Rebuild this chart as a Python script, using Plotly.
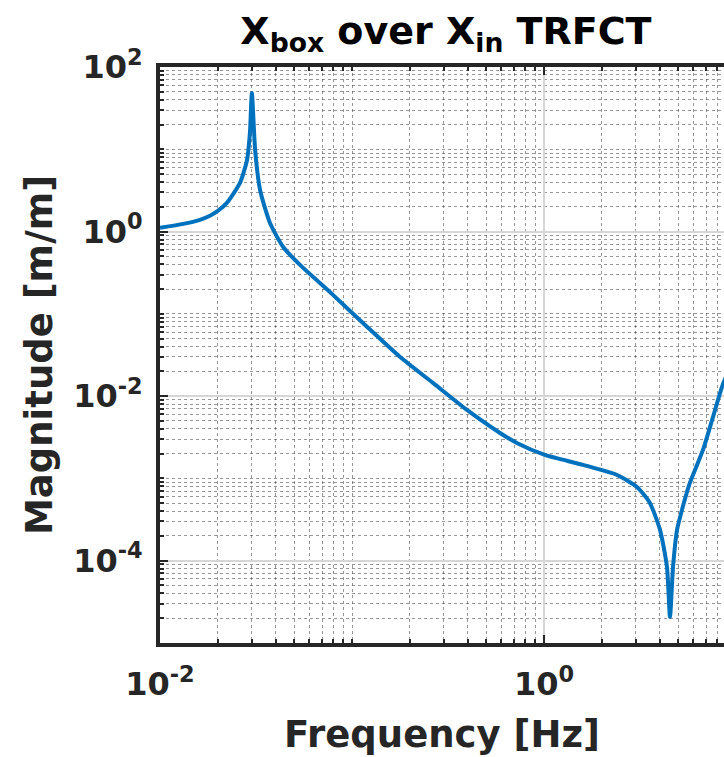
import plotly.graph_objects as go

# Transfer function magnitude |X_box / X_in| versus frequency
freq_hz = [0.0100, 0.0132, 0.0160, 0.0182, 0.0200, 0.0223, 0.0261, 0.0284, 0.0294, 0.0301,
           0.0313, 0.0332, 0.0374, 0.0438, 0.0536, 0.0796, 0.120, 0.178,
           0.264, 0.397, 0.590, 0.722, 1.01, 1.60, 2.40, 3.05, 3.56, 4.02,
           4.37, 4.53, 4.70, 4.93, 5.23, 5.75, 6.73, 7.59, 8.55, 10.0]
magnitude = [1.11, 1.24, 1.38, 1.56, 1.78, 2.23, 3.90, 7.41, 15.8, 48.3,
             9.8, 3.2, 1.27, 0.650, 0.393, 0.170, 0.0693, 0.0299,
             0.0145, 0.00680, 0.00357, 0.00270, 0.00193, 0.00146, 0.00110, 0.000788, 0.000504, 0.000237,
             8.4e-5, 2.07e-5, 8.4e-5, 0.000237, 0.000414, 0.000881, 0.00222, 0.00559, 0.0140, 0.031]

x_tick_vals = [0.01, 1]
x_tick_text = ["10<sup>-2</sup>", "10<sup>0</sup>"]
y_tick_vals = [1e-4, 1e-2, 1, 100]
y_tick_text = ["10<sup>-4</sup>", "10<sup>-2</sup>", "10<sup>0</sup>", "10<sup>2</sup>"]

FONT = "DejaVu Sans"
INK = "#262626"
LINE_BLUE = "#0072BD"

fig = go.Figure()
fig.add_trace(go.Scatter(x=freq_hz, y=magnitude, mode="lines",
                         line=dict(color=LINE_BLUE, width=4, shape="spline", smoothing=0.6)))

axis_common = dict(
    type="log",
    showline=True, linecolor=INK, linewidth=4,
    ticks="inside", ticklen=8, tickwidth=2, tickcolor=INK,
    showgrid=True, gridcolor="#d6d6d6", gridwidth=2,
    tickfont=dict(family=FONT, size=32, color=INK, weight="bold"),
    zeroline=False,
    minor=dict(dtick="D1", ticks="inside", ticklen=4, tickcolor=INK,
               showgrid=True, gridcolor="rgba(80,80,80,0.6)", griddash="dot", gridwidth=1),
)

fig.update_xaxes(**axis_common, range=[-2, 0.9375], mirror="ticks",
                 tickvals=x_tick_vals, ticktext=x_tick_text, ticklabelstandoff=10,
                 title=dict(text="Frequency [Hz]", standoff=20,
                            font=dict(family=FONT, size=37, color=INK, weight="bold")))
fig.update_yaxes(**axis_common, range=[-5, 2], mirror=False,
                 tickvals=y_tick_vals, ticktext=y_tick_text, ticklabelstandoff=7,
                 title=dict(text="Magnitude [m/m]", standoff=10,
                            font=dict(family=FONT, size=37, color=INK, weight="bold")))

fig.update_layout(
    width=724, height=757,
    margin=dict(l=160, r=0, t=67, b=114),
    plot_bgcolor="white", paper_bgcolor="white",
    showlegend=False,
    title=dict(text="X<sub>box</sub> over X<sub>in</sub> TRFCT",
               x=0.507, xref="paper", xanchor="center",
               y=0.959, yref="container", yanchor="middle",
               font=dict(family=FONT, size=38, color="black", weight="bold")),
)

fig.write_html("out.html")
